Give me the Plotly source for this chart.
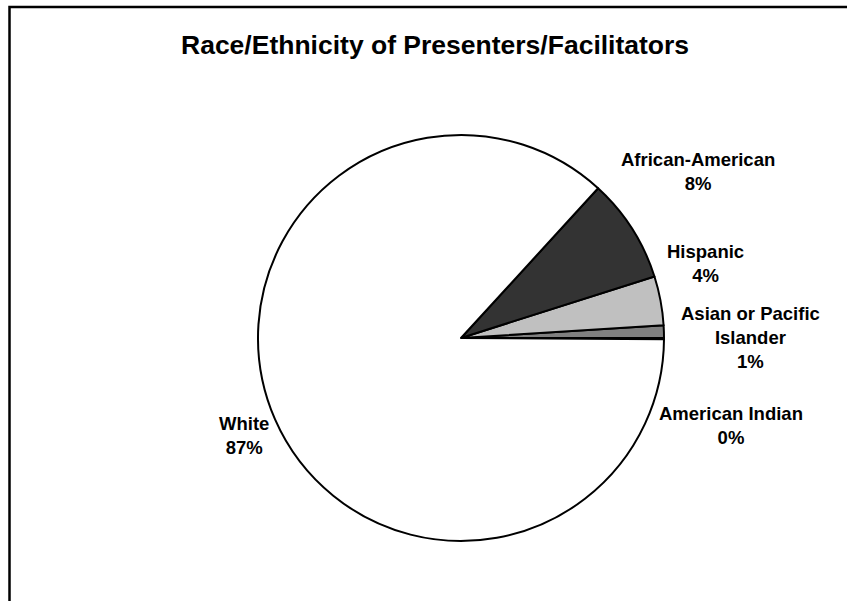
import plotly.graph_objects as go

# ---- data ----
categories = ["American Indian", "Asian or Pacific Islander", "Hispanic",
              "African-American", "White"]
display_names = ["American Indian", "Asian or Pacific<br>Islander", "Hispanic",
                 "African-American", "White"]
percent_values = [0.1, 1.0, 3.9, 8.3, 86.7]
title_text = "Race/Ethnicity of Presenters/Facilitators"

# ---- styling ----
W, H = 847, 601
slice_colors = ["#969696", "#808080", "#C0C0C0", "#333333", "#FFFFFF"]
# label block centres in pixels (x, y)
label_px = [(731, 425), (750, 338), (705, 263), (698, 172), (244, 435)]
pie_center = (461, 338)
pie_radius = 203


def px_x(x):
    return x / W


def px_y(y):
    return 1 - y / H


fig = go.Figure()
fig.add_trace(go.Pie(
    labels=categories,
    values=percent_values,
    sort=False,
    direction="counterclockwise",
    rotation=90,
    textinfo="none",
    hoverinfo="label+percent",
    marker=dict(colors=slice_colors, line=dict(color="black", width=2)),
    domain=dict(
        x=[px_x(pie_center[0] - pie_radius), px_x(pie_center[0] + pie_radius)],
        y=[px_y(pie_center[1] + pie_radius), px_y(pie_center[1] - pie_radius)],
    ),
    showlegend=False,
))

annotations = []
for name, val, (lx, ly) in zip(display_names, percent_values, label_px):
    annotations.append(dict(
        x=px_x(lx), y=px_y(ly), xref="paper", yref="paper",
        text=f"<b>{name}<br>{round(val):d}%</b>",
        showarrow=False, xanchor="center", yanchor="middle", align="center",
        font=dict(family="Liberation Sans, Arial, sans-serif", size=18.5, color="black"),
    ))

annotations.append(dict(
    x=px_x(435), y=px_y(45), xref="paper", yref="paper",
    text=f"<b>{title_text}</b>", showarrow=False,
    xanchor="center", yanchor="middle",
    font=dict(family="Liberation Sans, Arial, sans-serif", size=26.5, color="black"),
))

fig.update_layout(
    width=W, height=H,
    margin=dict(l=0, r=0, t=0, b=0),
    paper_bgcolor="white", plot_bgcolor="white",
    annotations=annotations,
    shapes=[dict(type="rect", xref="paper", yref="paper",
                 x0=px_x(9.5), y0=px_y(7), x1=1.05, y1=-0.05,
                 line=dict(color="black", width=2.5), fillcolor="rgba(0,0,0,0)")],
)

fig.write_html(
    "out.html",
    config={"displayModeBar": False},
    post_script="document.body.style.margin='0';document.body.style.overflow='hidden';",
)
